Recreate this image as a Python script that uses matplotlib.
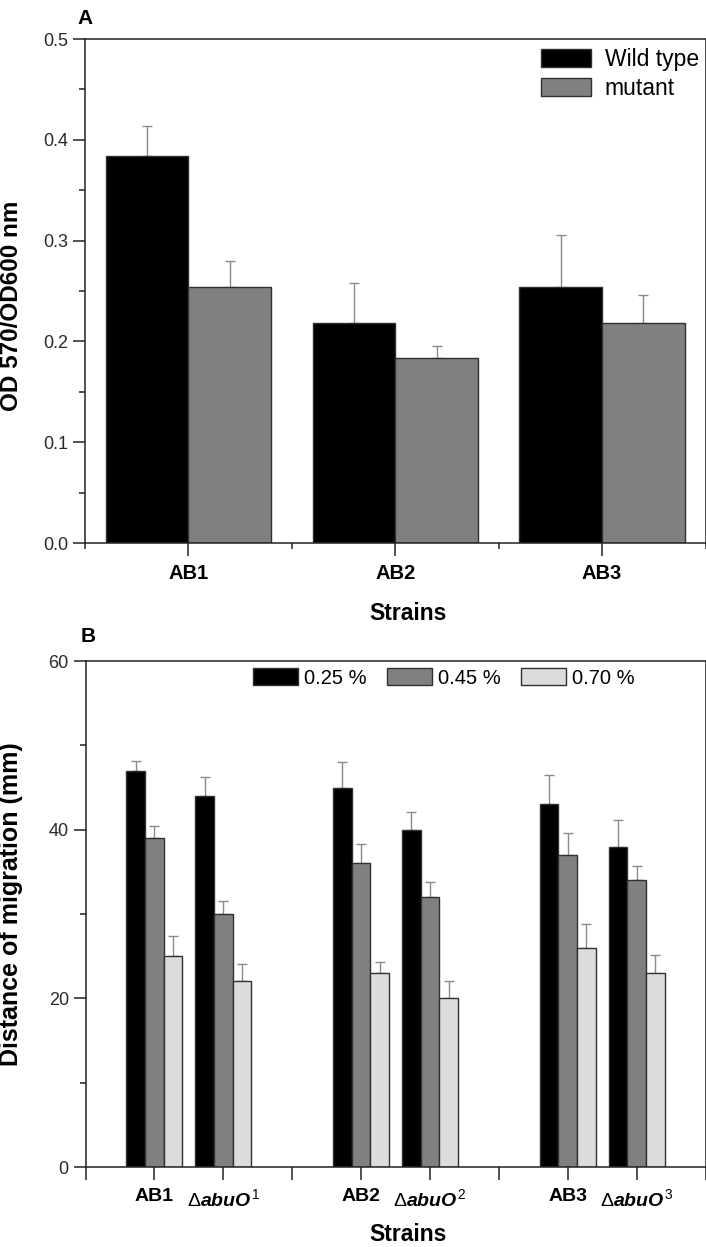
import numpy as np
import matplotlib
matplotlib.use('Agg')
import matplotlib.pyplot as plt
from matplotlib.ticker import MultipleLocator, FixedLocator

plt.rcParams['font.family'] = ['Liberation Sans', 'DejaVu Sans']
plt.rcParams['mathtext.fontset'] = 'custom'
plt.rcParams['mathtext.rm'] = 'Liberation Sans'
plt.rcParams['mathtext.it'] = 'Liberation Sans:italic:bold'
plt.rcParams['mathtext.bf'] = 'Liberation Sans:bold'

# panel A data
strains_a = ['AB1', 'AB2', 'AB3']
wild_a = [0.384, 0.218, 0.254]
wild_err = [0.030, 0.040, 0.052]
mutant_a = [0.254, 0.184, 0.218]
mutant_err = [0.026, 0.011, 0.028]

# panel B data
labels_b = ['AB1', r'$\Delta\mathit{abuO}^{1}$', 'AB2', r'$\Delta\mathit{abuO}^{2}$',
            'AB3', r'$\Delta\mathit{abuO}^{3}$']
c025 = [47, 44, 45, 40, 43, 38]
err025 = [1.2, 2.2, 3.0, 2.1, 3.5, 3.1]
c045 = [39, 30, 36, 32, 37, 34]
err045 = [1.4, 1.6, 2.3, 1.8, 2.6, 1.7]
c070 = [25, 22, 23, 20, 26, 23]
err070 = [2.4, 2.1, 1.3, 2.0, 2.8, 2.1]

BLACK = '#000000'
GRAY = '#808080'
LIGHT = '#dcdcdc'
EDGE = '#303030'
ERRC = '#8a8a8a'
SPINE = '#222222'

fig = plt.figure(figsize=(7.06, 12.47), dpi=100)
W, H = 706, 1247
axA = fig.add_axes([85 / W, 1 - 543 / H, 620.5 / W, 504 / H])
axB = fig.add_axes([85.5 / W, 1 - 1167 / H, 620 / W, 506 / H])


def style_axes(ax):
    for s in ax.spines.values():
        s.set_linewidth(1.1)
        s.set_color(SPINE)
    ax.tick_params(axis='both', which='major', direction='out', length=9, width=1.1,
                   color=SPINE)
    ax.tick_params(axis='both', which='minor', direction='out', length=4.5, width=1.1,
                   color=SPINE)
    ax.tick_params(axis='y', labelsize=13, labelcolor='#2a2a2a', pad=3)


def errs(ax, x, y, e):
    # upper error bars only, drawn behind the bars
    ax.errorbar(x, y, yerr=[np.zeros(len(e)), e], fmt='none', ecolor=ERRC,
                elinewidth=1.0, capsize=3.5, capthick=1.0, zorder=1)


# ---- panel A ----
xa = np.arange(1, len(strains_a) + 1)
wa = 0.4
axA.bar(xa - wa / 2, wild_a, wa, color=BLACK, edgecolor=EDGE, linewidth=1.0,
        zorder=2, label='Wild type')
axA.bar(xa + wa / 2, mutant_a, wa, color=GRAY, edgecolor=EDGE, linewidth=1.0,
        zorder=2, label='mutant')
errs(axA, xa - wa / 2, wild_a, wild_err)
errs(axA, xa + wa / 2, mutant_a, mutant_err)
axA.set_xlim(0.5, 3.5)
axA.set_ylim(0, 0.5)
axA.yaxis.set_minor_locator(MultipleLocator(0.05))
axA.set_yticks(np.arange(0, 0.51, 0.1))
axA.set_yticklabels([f'{v:.1f}' for v in np.arange(0, 0.51, 0.1)])
axA.set_xticks(xa)
axA.set_xticklabels(strains_a, fontsize=14.5, fontweight='bold')
axA.xaxis.set_minor_locator(FixedLocator([0.5, 1.5, 2.5, 3.5]))
style_axes(axA)
axA.tick_params(axis='x', which='major', pad=6)
axA.set_ylabel('OD 570/OD600 nm', fontsize=17.5, fontweight='bold')
axA.yaxis.set_label_coords(-0.1, 0.47)
axA.set_xlabel('Strains', fontsize=16.5, fontweight='bold')
axA.xaxis.set_label_coords(0.52, -0.118)
axA.legend(loc='upper left', bbox_to_anchor=(0.735, 0.982), frameon=False,
           fontsize=16.5, handlelength=2.18, handleheight=0.85, handletextpad=0.6,
           labelspacing=0.25, borderpad=0, borderaxespad=0)
fig.text(77 / W, 1 - 18 / H, 'A', fontsize=15, fontweight='bold', va='center')

# ---- panel B ----
groups = len(labels_b) // 2
xb = np.array([3 * g + 1 + j for g in range(groups) for j in range(2)], dtype=float)
wb = 0.27
axB.bar(xb - wb, c025, wb, color=BLACK, edgecolor=EDGE, linewidth=1.0, zorder=2,
        label='0.25 %')
axB.bar(xb, c045, wb, color=GRAY, edgecolor=EDGE, linewidth=1.0, zorder=2,
        label='0.45 %')
axB.bar(xb + wb, c070, wb, color=LIGHT, edgecolor=EDGE, linewidth=1.0, zorder=2,
        label='0.70 %')
errs(axB, xb - wb, c025, err025)
errs(axB, xb, c045, err045)
errs(axB, xb + wb, c070, err070)
axB.set_xlim(0, 9)
axB.set_ylim(0, 60)
axB.set_yticks([0, 20, 40, 60])
axB.yaxis.set_minor_locator(MultipleLocator(10))
axB.set_xticks(xb)
axB.set_xticklabels(labels_b, fontsize=14, fontweight='bold')
axB.xaxis.set_minor_locator(FixedLocator([0, 3, 6, 9]))
style_axes(axB)
axB.tick_params(axis='x', which='both', length=9, pad=6)
axB.set_ylabel('Distance of migration (mm)', fontsize=18, fontweight='bold')
axB.yaxis.set_label_coords(-0.1, 0.52)
axB.set_xlabel('Strains', fontsize=16.5, fontweight='bold')
axB.xaxis.set_label_coords(0.52, -0.111)
axB.legend(loc='center left', bbox_to_anchor=(0.27, 0.967), frameon=False, ncol=3,
           fontsize=14.5, handlelength=2.24, handleheight=0.95, handletextpad=0.3,
           columnspacing=1.0, borderpad=0, borderaxespad=0)
fig.text(81 / W, 1 - 636 / H, 'B', fontsize=15, fontweight='bold', va='center')

fig.savefig('out.png', dpi=100)
